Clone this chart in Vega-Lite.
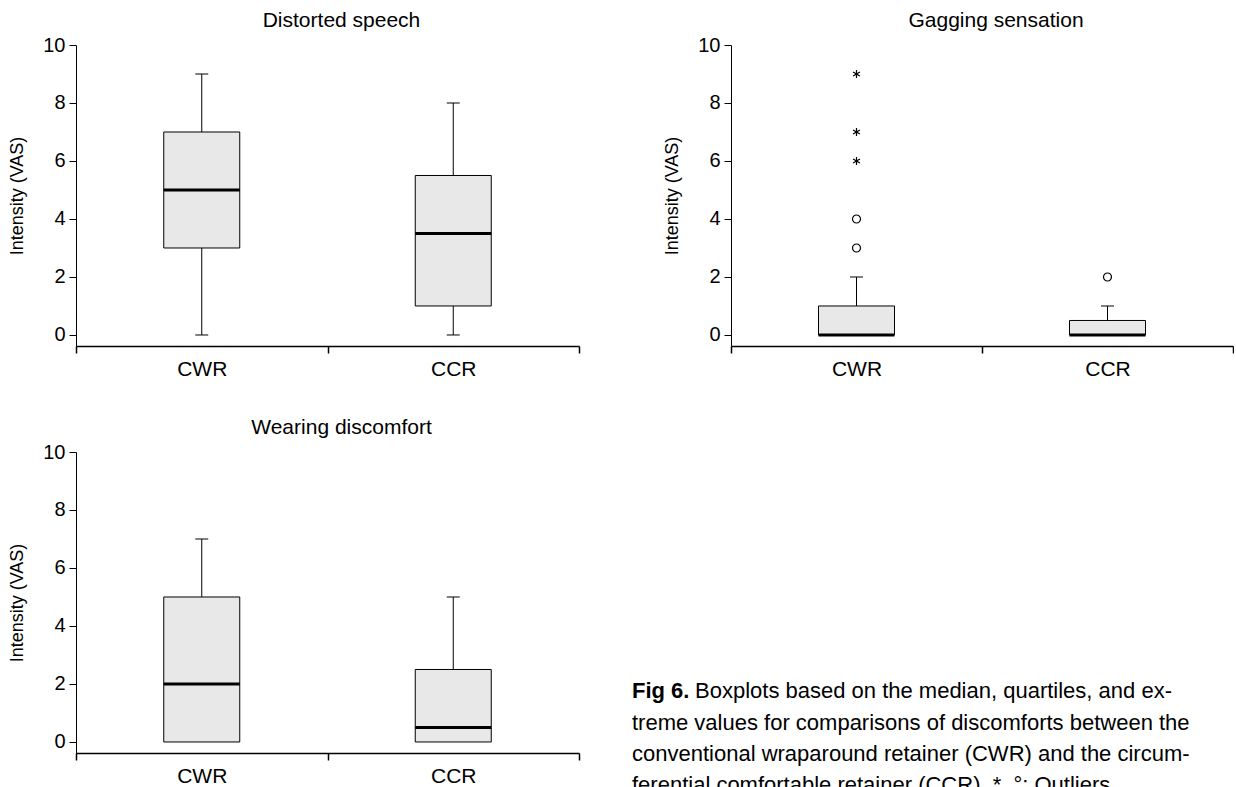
{
  "$schema": "https://vega.github.io/schema/vega-lite/v6.json",
  "background": "white",
  "padding": {"left": 8, "top": 10, "right": 0, "bottom": 0},
  "config": {
    "font": "Liberation Sans",
    "view": {"stroke": null},
    "axis": {"domainColor": "black", "tickColor": "black", "labelColor": "black", "titleColor": "black", "grid": false, "labelFont": "Liberation Sans", "titleFont": "Liberation Sans"},
    "title": {"fontSize": 21, "fontWeight": "normal", "color": "black", "offset": 4, "frame": "group", "dx": 14, "font": "Liberation Sans"}
  },
  "datasets": {
    "speech": [
      {"group": "CWR", "min": 0, "q1": 3, "median": 5, "q3": 7, "max": 9},
      {"group": "CCR", "min": 0, "q1": 1, "median": 3.5, "q3": 5.5, "max": 8}
    ],
    "gag": [
      {"group": "CWR", "min": 0, "q1": 0, "median": 0, "q3": 1, "max": 2},
      {"group": "CCR", "min": 0, "q1": 0, "median": 0, "q3": 0.5, "max": 1}
    ],
    "gag_out": [
      {"group": "CWR", "value": 9, "kind": "extreme"},
      {"group": "CWR", "value": 7, "kind": "extreme"},
      {"group": "CWR", "value": 6, "kind": "extreme"},
      {"group": "CWR", "value": 4, "kind": "outlier"},
      {"group": "CWR", "value": 3, "kind": "outlier"},
      {"group": "CCR", "value": 2, "kind": "outlier"}
    ],
    "wear": [
      {"group": "CWR", "min": 0, "q1": 0, "median": 2, "q3": 5, "max": 7},
      {"group": "CCR", "min": 0, "q1": 0, "median": 0.5, "q3": 2.5, "max": 5}
    ],
    "caption": [
      {"line": 1, "part": "lead", "text": "Fig 6."},
      {"line": 1, "part": "rest", "text": "Boxplots based on the median, quartiles, and ex-"},
      {"line": 2, "part": "body", "text": "treme values for comparisons of discomforts between the"},
      {"line": 3, "part": "body", "text": "conventional wraparound retainer (CWR) and the circum-"},
      {"line": 4, "part": "body", "text": "ferential comfortable retainer (CCR). *, °: Outliers."}
    ]
  },
  "spacing": 38,
  "vconcat": [
    {
      "spacing": 83,
      "hconcat": [
        {
          "width": 503, "height": 301,
          "title": {"text": "Distorted speech"},
          "data": {"name": "speech"},
          "encoding": {
            "x": {"field": "group", "type": "nominal", "sort": ["CWR", "CCR"], "scale": {"domain": ["CWR", "CCR"], "paddingInner": 0, "paddingOuter": 0}, "axis": {"title": null, "labelAngle": 0, "tickBand": "extent", "tickSize": 7, "labelFontSize": 21, "labelPadding": 5, "domainWidth": 1.5, "tickWidth": 1.5}}
          },
          "layer": [
            {"mark": {"type": "rule", "color": "black", "strokeWidth": 1},
             "encoding": {"y": {"field": "min", "type": "quantitative", "title": "Intensity (VAS)", "scale": {"domain": [-0.38, 10], "nice": false, "zero": false}, "axis": {"values": [0, 2, 4, 6, 8, 10], "titleFontSize": 18, "titleFontWeight": "normal", "labelFontSize": 20, "tickSize": 7, "labelPadding": 4, "titlePadding": 16}}, "y2": {"field": "max"}}},
            {"mark": {"type": "bar", "width": 76, "fill": "#e8e8e8", "stroke": "black", "strokeWidth": 1},
             "encoding": {"y": {"field": "q1", "type": "quantitative", "title": "Intensity (VAS)"}, "y2": {"field": "q3"}}},
            {"mark": {"type": "tick", "size": 76, "thickness": 3, "color": "black", "opacity": 1},
             "encoding": {"y": {"field": "median", "type": "quantitative", "title": "Intensity (VAS)"}}},
            {"mark": {"type": "tick", "size": 13, "thickness": 1, "color": "black", "opacity": 1},
             "encoding": {"y": {"field": "max", "type": "quantitative", "title": "Intensity (VAS)"}}},
            {"mark": {"type": "tick", "size": 13, "thickness": 1, "color": "black", "opacity": 1},
             "encoding": {"y": {"field": "min", "type": "quantitative", "title": "Intensity (VAS)"}}}
          ]
        },
        {
          "width": 502, "height": 301,
          "title": {"text": "Gagging sensation"},
          "encoding": {
            "x": {"field": "group", "type": "nominal", "sort": ["CWR", "CCR"], "scale": {"domain": ["CWR", "CCR"], "paddingInner": 0, "paddingOuter": 0}, "axis": {"title": null, "labelAngle": 0, "tickBand": "extent", "tickSize": 7, "labelFontSize": 21, "labelPadding": 5, "domainWidth": 1.5, "tickWidth": 1.5}}
          },
          "layer": [
            {"data": {"name": "gag"}, "mark": {"type": "rule", "color": "black", "strokeWidth": 1},
             "encoding": {"y": {"field": "min", "type": "quantitative", "title": "Intensity (VAS)", "scale": {"domain": [-0.38, 10], "nice": false, "zero": false}, "axis": {"values": [0, 2, 4, 6, 8, 10], "titleFontSize": 18, "titleFontWeight": "normal", "labelFontSize": 20, "tickSize": 7, "labelPadding": 4, "titlePadding": 16}}, "y2": {"field": "max"}}},
            {"data": {"name": "gag"}, "mark": {"type": "bar", "width": 76, "fill": "#e8e8e8", "stroke": "black", "strokeWidth": 1},
             "encoding": {"y": {"field": "q1", "type": "quantitative", "title": "Intensity (VAS)"}, "y2": {"field": "q3"}}},
            {"data": {"name": "gag"}, "mark": {"type": "tick", "size": 76, "thickness": 3, "color": "black", "opacity": 1},
             "encoding": {"y": {"field": "median", "type": "quantitative", "title": "Intensity (VAS)"}}},
            {"data": {"name": "gag"}, "mark": {"type": "tick", "size": 13, "thickness": 1, "color": "black", "opacity": 1},
             "encoding": {"y": {"field": "max", "type": "quantitative", "title": "Intensity (VAS)"}}},
            {"data": {"name": "gag_out"}, "mark": {"type": "point", "filled": false, "fill": "white", "stroke": "black", "strokeWidth": 1.2, "opacity": 1, "size": 64},
             "encoding": {
               "y": {"field": "value", "type": "quantitative", "title": "Intensity (VAS)"},
               "shape": {"field": "kind", "type": "nominal", "scale": {"domain": ["extreme", "outlier"], "range": ["M0,-1L0,1M-0.866,-0.5L0.866,0.5M-0.866,0.5L0.866,-0.5", "circle"]}, "legend": null}
             }}
          ]
        }
      ]
    },
    {
      "spacing": 52,
      "hconcat": [
        {
          "width": 503, "height": 301,
          "title": {"text": "Wearing discomfort"},
          "data": {"name": "wear"},
          "encoding": {
            "x": {"field": "group", "type": "nominal", "sort": ["CWR", "CCR"], "scale": {"domain": ["CWR", "CCR"], "paddingInner": 0, "paddingOuter": 0}, "axis": {"title": null, "labelAngle": 0, "tickBand": "extent", "tickSize": 7, "labelFontSize": 21, "labelPadding": 5, "domainWidth": 1.5, "tickWidth": 1.5}}
          },
          "layer": [
            {"mark": {"type": "rule", "color": "black", "strokeWidth": 1},
             "encoding": {"y": {"field": "min", "type": "quantitative", "title": "Intensity (VAS)", "scale": {"domain": [-0.38, 10], "nice": false, "zero": false}, "axis": {"values": [0, 2, 4, 6, 8, 10], "titleFontSize": 18, "titleFontWeight": "normal", "labelFontSize": 20, "tickSize": 7, "labelPadding": 4, "titlePadding": 16}}, "y2": {"field": "max"}}},
            {"mark": {"type": "bar", "width": 76, "fill": "#e8e8e8", "stroke": "black", "strokeWidth": 1},
             "encoding": {"y": {"field": "q1", "type": "quantitative", "title": "Intensity (VAS)"}, "y2": {"field": "q3"}}},
            {"mark": {"type": "tick", "size": 76, "thickness": 3, "color": "black", "opacity": 1},
             "encoding": {"y": {"field": "median", "type": "quantitative", "title": "Intensity (VAS)"}}},
            {"mark": {"type": "tick", "size": 13, "thickness": 1, "color": "black", "opacity": 1},
             "encoding": {"y": {"field": "max", "type": "quantitative", "title": "Intensity (VAS)"}}}
          ]
        },
        {
          "width": 590, "height": 334,
          "data": {"name": "caption"},
          "encoding": {
            "x": {"datum": 0, "type": "quantitative", "scale": {"domain": [0, 1]}, "axis": null},
            "y": {"field": "line", "type": "quantitative", "scale": {"domain": [-6.59, 4.016], "reverse": true, "nice": false, "zero": false}, "axis": null},
            "text": {"field": "text"}
          },
          "layer": [
            {"transform": [{"filter": "datum.part === 'lead'"}],
             "mark": {"type": "text", "align": "left", "baseline": "middle", "fontSize": 22, "fontWeight": "bold", "color": "black"}},
            {"transform": [{"filter": "datum.part === 'rest'"}],
             "mark": {"type": "text", "align": "left", "baseline": "middle", "fontSize": 22, "dx": 63, "color": "black"}},
            {"transform": [{"filter": "datum.part === 'body'"}],
             "mark": {"type": "text", "align": "left", "baseline": "middle", "fontSize": 22, "color": "black"}}
          ]
        }
      ]
    }
  ]
}
